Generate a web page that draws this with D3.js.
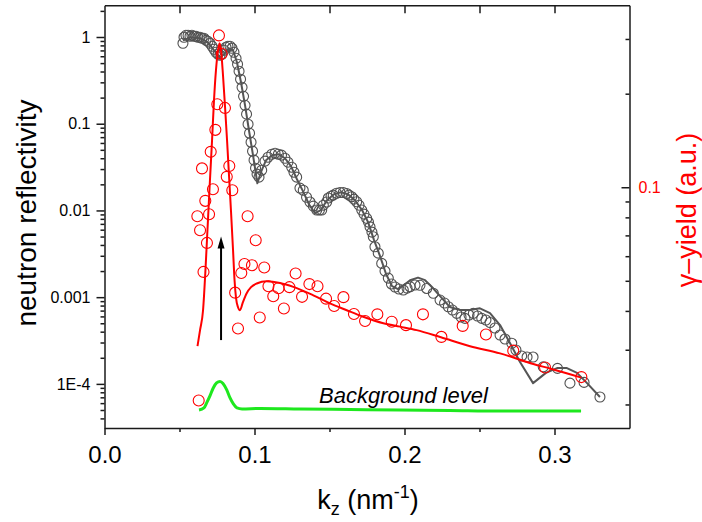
<!DOCTYPE html>
<html>
<head>
<meta charset="utf-8">
<script src="https://cdn.jsdelivr.net/npm/d3@7"></script>
<style>
  html, body { margin: 0; padding: 0; background: #fff; }
  svg { display: block; font-family: Arial, "Liberation Sans", sans-serif; }
</style>
</head>
<body>
<svg id="chart" width="702" height="522"></svg>
<script>
// Neutron reflectivity: measured points
const kRefl = [0.0523,0.0530,0.0543,0.0557,0.0570,0.0583,0.0597,0.0610,0.0623,0.0637,
  0.0650,0.0663,0.0677,0.0690,0.0703,0.0717,0.0730,0.0743,0.0757,0.0770,
  0.0783,0.0797,0.0810,0.0823,0.0837,0.0850,0.0863,0.0877,0.0887,0.0897,
  0.0907,0.0917,0.0927,0.0937,0.0947,0.0957,0.0967,0.0977,0.0987,0.0997,
  0.1007,0.1017,0.1030,0.1048,0.1070,0.1090,0.1115,0.1137,0.1159,0.1180,
  0.1203,0.1223,0.1248,0.1263,0.1281,0.1303,0.1325,0.1347,0.1370,0.1392,
  0.1415,0.1433,0.1448,0.1459,0.1481,0.1492,0.1510,0.1525,0.1547,0.1570,
  0.1592,0.1615,0.1630,0.1648,0.1663,0.1681,0.1697,0.1715,0.1730,0.1748,
  0.1760,0.1770,0.1783,0.1792,0.1803,0.1825,0.1848,0.1870,0.1892,0.1913,
  0.1937,0.1963,0.1992,0.2017,0.2037,0.2070,0.2103,0.2148,0.2192,0.2237,
  0.2267,0.2292,0.2320,0.2348,0.2377,0.2403,0.2430,0.2459,0.2487,0.2515,
  0.2543,0.2570,0.2603,0.2637,0.2670,0.2715,0.2743,0.2781,0.2817,0.2857,
  0.2925,0.3020,0.3103,0.3197,0.3303];
const reflData = [0.846,0.992,1.046,1.046,1.019,1.046,1.019,1.019,0.992,0.992,
  0.966,0.966,0.916,0.892,0.846,0.782,0.721,0.667,0.632,0.615,
  0.632,0.703,0.761,0.782,0.782,0.741,0.667,0.568,0.485,0.403,
  0.326,0.263,0.207,0.163,0.129,0.0987,0.0777,0.0612,0.0482,0.0380,
  0.0307,0.0262,0.0242,0.0291,0.0370,0.0411,0.0445,0.0457,0.0445,0.0434,
  0.0400,0.0360,0.0315,0.0276,0.0242,0.0181,0.0171,0.0142,0.0125,0.0112,
  0.0101,0.0101,0.0101,0.0115,0.0125,0.0139,0.0146,0.0150,0.0158,0.0161,
  0.0161,0.0157,0.0150,0.0144,0.0135,0.0126,0.0115,0.0101,0.00907,0.00809,
  0.00733,0.00647,0.00562,0.00497,0.00381,0.00322,0.00245,0.00200,0.00166,0.00142,
  0.00131,0.00124,0.00121,0.00127,0.00132,0.00138,0.00137,0.00126,0.00111,0.000926,
  0.000855,0.000775,0.000710,0.000651,0.000590,0.000570,0.000622,0.000651,0.000606,0.000570,
  0.000545,0.000510,0.000441,0.000366,0.000329,0.000294,0.000246,0.000210,0.000204,0.000204,
  0.000157,0.000151,0.000102,0.000104,0.0000706];

// Neutron reflectivity: model curve
const kReflFit = [0.0523,0.0570,0.0637,0.0690,0.0730,0.0770,0.0797,0.0830,0.0857,0.0883,
  0.0910,0.0937,0.0963,0.0990,0.1019,0.1043,0.1077,0.1117,0.1163,0.1203,
  0.1243,0.1283,0.1323,0.1363,0.1403,0.1443,0.1483,0.1530,0.1577,0.1623,
  0.1670,0.1717,0.1757,0.1797,0.1837,0.1877,0.1917,0.1957,0.1997,0.2037,
  0.2090,0.2137,0.2183,0.2237,0.2303,0.2370,0.2437,0.2503,0.2570,0.2637,
  0.2703,0.2770,0.2857,0.2943,0.3017,0.3083,0.3150,0.3217,0.3303];
const reflFit = [0.916,0.992,0.966,0.869,0.703,0.583,0.632,0.741,0.703,0.511,
  0.301,0.163,0.0841,0.0434,0.0206,0.0276,0.0380,0.0434,0.0445,0.0400,
  0.0324,0.0229,0.0167,0.0118,0.00931,0.0101,0.0131,0.0154,0.0162,0.0154,
  0.0131,0.0101,0.00733,0.00455,0.00297,0.00185,0.00134,0.00124,0.00138,0.00157,
  0.00168,0.00157,0.00131,0.00103,0.000769,0.000710,0.000710,0.000743,0.000656,0.000477,
  0.000296,0.000179,0.000102,0.000134,0.000152,0.000152,0.000134,0.000102,0.0000706];

// Gamma yield: measured points
const kGamma = [0.0619,0.0628,0.0637,0.0650,0.0660,0.0672,0.0683,0.0697,0.0708,0.0723,
  0.0739,0.0752,0.0763,0.0781,0.0803,0.0815,0.0832,0.0852,0.0871,0.0890,
  0.0912,0.0933,0.0954,0.0983,0.1008,0.1035,0.1065,0.1093,0.1125,0.1160,
  0.1196,0.1233,0.1274,0.1317,0.1366,0.1420,0.1477,0.1531,0.1593,0.1663,
  0.1737,0.1819,0.1915,0.2010,0.2123,0.2246,0.2388,0.2543,0.2725,0.2937,0.3179];
const gammaData = [0.0807,0.0206,0.0727,0.115,0.0534,0.0904,0.0662,0.0819,0.130,0.0985,
  0.153,0.185,0.308,0.269,0.180,0.108,0.117,0.0978,0.0458,0.0351,
  0.0530,0.0566,0.0807,0.0561,0.0675,0.0381,0.0552,0.0480,0.0446,0.0473,
  0.0407,0.0477,0.0528,0.0444,0.0488,0.0480,0.0438,0.0415,0.0443,0.0391,
  0.0371,0.0390,0.0369,0.0360,0.0390,0.0330,0.0358,0.0336,0.0298,0.0263,0.0245];

// Gamma yield: model curve
const kGammaFit = [0.0620,0.0637,0.0657,0.0673,0.0683,0.0693,0.0703,0.0717,0.0730,0.0743,
  0.0757,0.0767,0.0777,0.0790,0.0803,0.0817,0.0830,0.0843,0.0857,0.0867,
  0.0877,0.0890,0.0903,0.0923,0.0948,0.0977,0.1015,0.1081,0.1170,0.1259,
  0.1392,0.1503,0.1615,0.1725,0.1859,0.1970,0.2081,0.2243,0.2437,0.2637,
  0.2859,0.2970,0.3179];
const gammaFit = [0.0308,0.0347,0.0402,0.0541,0.0675,0.0843,0.1053,0.1416,0.1905,0.2378,
  0.2758,0.2904,0.2758,0.2292,0.1836,0.1416,0.1093,0.0843,0.0627,0.0502,
  0.0440,0.0411,0.0402,0.0427,0.0456,0.0477,0.0490,0.0498,0.0492,0.0478,
  0.0449,0.0423,0.0402,0.0383,0.0365,0.0356,0.0347,0.0329,0.0308,0.0292,
  0.0270,0.0261,0.0244];

// Background level (reflectivity units)
const kBackground = [0.0630,0.0663,0.0681,0.0703,0.0725,0.0747,0.0770,0.0790,0.0815,0.0837,
  0.0859,0.0883,0.0917,0.1037,0.1303,0.1637,0.1970,0.2303,0.2637,0.2903,0.3177];
const background = [5.00e-5,5.28e-5,6.03e-5,7.26e-5,8.97e-5,1.024e-4,1.066e-4,1.011e-4,8.51e-5,6.88e-5,
  5.87e-5,5.28e-5,5.14e-5,5.21e-5,5.14e-5,5.07e-5,5.00e-5,4.94e-5,4.87e-5,4.87e-5,4.87e-5];

// Arrow marking the resonance position
const arrowK = 0.0777;
const arrowFrom = 3.2e-4;
const arrowTo = 5.0e-3;

// Axis ticks
const xMajorTicks = [0, 0.1, 0.2, 0.3];
const xTickLabels = ["0.0", "0.1", "0.2", "0.3"];
const xMinorTicks = [0.05, 0.15, 0.25];
const xTopTicks = [0.05, 0.1, 0.15, 0.2, 0.25, 0.3];
const yLeftTicks = [1e-4, 1e-3, 1e-2, 1e-1, 1];
const yLeftLabels = ["1E-4", "0.001", "0.01", "0.1", "1"];
const yRightTicks = [0.1];
const yRightLabels = ["0.1"];

const svg = d3.select("#chart");
const L = 104.5, R = 629.5, T = 5.3, B = 428;

const x = d3.scaleLinear().domain([0, 0.35]).range([L, R]);
const yL = d3.scaleLog().domain([3.1e-5, 2.32]).range([B, T]);
const yR = d3.scaleLog().domain([0.0168, 0.385]).range([B, T]);

const axisColor = "#1a1a1a";
function styleAxis(g, fontSize, color) {
  g.select(".domain").attr("stroke", axisColor).attr("stroke-width", 1.5);
  g.selectAll(".tick line").attr("stroke", axisColor).attr("stroke-width", 1.5);
  g.selectAll(".tick text").attr("font-size", fontSize).attr("fill", color || "#000")
    .attr("font-family", "Arial, 'Liberation Sans', sans-serif");
}

// bottom axis
const gx = svg.append("g").attr("transform", `translate(0,${B})`)
  .call(d3.axisBottom(x).tickValues(xMajorTicks).tickSizeInner(7).tickSizeOuter(0)
    .tickPadding(11).tickFormat((d, i) => xTickLabels[i]));
styleAxis(gx, 24);
const gxm = svg.append("g").attr("transform", `translate(0,${B})`)
  .call(d3.axisBottom(x).tickValues(xMinorTicks).tickSizeInner(4).tickSizeOuter(0).tickFormat(""));
styleAxis(gxm, 1);
gxm.select(".domain").remove();

// top axis (ticks pointing into the frame)
const gt = svg.append("g").attr("transform", `translate(0,${T})`)
  .call(d3.axisTop(x).tickValues(xTopTicks).tickSizeInner(-8).tickSizeOuter(0).tickFormat(""));
styleAxis(gt, 1);

// left axis
const gl = svg.append("g").attr("transform", `translate(${L},0)`)
  .call(d3.axisLeft(yL).tickValues(yLeftTicks).tickSizeInner(8).tickSizeOuter(0)
    .tickPadding(6).tickFormat((d, i) => yLeftLabels[i]));
styleAxis(gl, 16);
const leftMinor = yL.ticks().filter(v => !yLeftTicks.some(m => Math.abs(m - v) / m < 1e-6));
const glm = svg.append("g").attr("transform", `translate(${L},0)`)
  .call(d3.axisLeft(yL).tickValues(leftMinor).tickSizeInner(4).tickSizeOuter(0).tickFormat(""));
styleAxis(glm, 1);
glm.select(".domain").remove();

// right axis (gamma yield)
const gr = svg.append("g").attr("transform", `translate(${R},0)`)
  .call(d3.axisRight(yR).tickValues(yRightTicks).tickSizeInner(-8).tickSizeOuter(0)
    .tickPadding(9).tickFormat((d, i) => yRightLabels[i]));
styleAxis(gr, 16, "#ff0000");
const rightMinor = yR.ticks().filter(v => !yRightTicks.some(m => Math.abs(m - v) / m < 1e-6));
const grm = svg.append("g").attr("transform", `translate(${R},0)`)
  .call(d3.axisRight(yR).tickValues(rightMinor).tickSizeInner(-4).tickSizeOuter(0).tickFormat(""));
styleAxis(grm, 1);
grm.select(".domain").remove();

// plot contents
const plot = svg.append("g");

const reflPts = d3.zip(kRefl, reflData);
plot.append("g").selectAll("circle").data(reflPts).join("circle")
  .attr("cx", d => x(d[0])).attr("cy", d => yL(d[1])).attr("r", 5)
  .attr("fill", "none").attr("stroke", "#505050").attr("stroke-width", 1.1);

plot.append("path")
  .datum(d3.zip(kReflFit, reflFit))
  .attr("d", d3.line().x(d => x(d[0])).y(d => yL(d[1])))
  .attr("fill", "none").attr("stroke", "#555555").attr("stroke-width", 2)
  .attr("stroke-linejoin", "round");

plot.append("g").selectAll("circle").data(d3.zip(kGamma, gammaData)).join("circle")
  .attr("cx", d => x(d[0])).attr("cy", d => yR(d[1])).attr("r", 5.5)
  .attr("fill", "none").attr("stroke", "#ff0000").attr("stroke-width", 1.1);

plot.append("path")
  .datum(d3.zip(kGammaFit, gammaFit))
  .attr("d", d3.line().curve(d3.curveMonotoneX).x(d => x(d[0])).y(d => yR(d[1])))
  .attr("fill", "none").attr("stroke", "#ff0000").attr("stroke-width", 2);

plot.append("path")
  .datum(d3.zip(kBackground, background))
  .attr("d", d3.line().curve(d3.curveMonotoneX).x(d => x(d[0])).y(d => yL(d[1])))
  .attr("fill", "none").attr("stroke", "#1ee81e").attr("stroke-width", 3);

// arrow
const ax = x(arrowK), ay0 = yL(arrowFrom), ay1 = yL(arrowTo);
plot.append("line").attr("x1", ax).attr("x2", ax).attr("y1", ay0).attr("y2", ay1 + 10)
  .attr("stroke", "#000").attr("stroke-width", 2);
plot.append("path")
  .attr("d", `M${ax},${ay1} L${ax - 3.5},${ay1 + 12} L${ax + 3.5},${ay1 + 12} Z`)
  .attr("fill", "#000");

// annotation
svg.append("text").attr("x", 319).attr("y", 403)
  .attr("font-size", 22).attr("font-style", "italic").attr("fill", "#000")
  .text("Background level");

// axis titles
svg.append("text")
  .attr("transform", "translate(36,213) rotate(-90)")
  .attr("text-anchor", "middle").attr("font-size", 28).attr("fill", "#000")
  .text("neutron reflectivity");

svg.append("text")
  .attr("transform", "translate(696,210) rotate(-90)")
  .attr("text-anchor", "middle").attr("font-size", 27).attr("fill", "#ff0000")
  .text("γ–yield (a.u.)");

const xt = svg.append("text").attr("x", 368).attr("y", 509)
  .attr("text-anchor", "middle").attr("font-size", 27).attr("fill", "#000");
xt.append("tspan").text("k");
xt.append("tspan").attr("font-size", 18).attr("dy", 6).text("z");
xt.append("tspan").attr("dy", -6).text(" (nm");
xt.append("tspan").attr("font-size", 18).attr("dy", -11).text("-1");
xt.append("tspan").attr("dy", 11).text(")");
</script>
</body>
</html>
